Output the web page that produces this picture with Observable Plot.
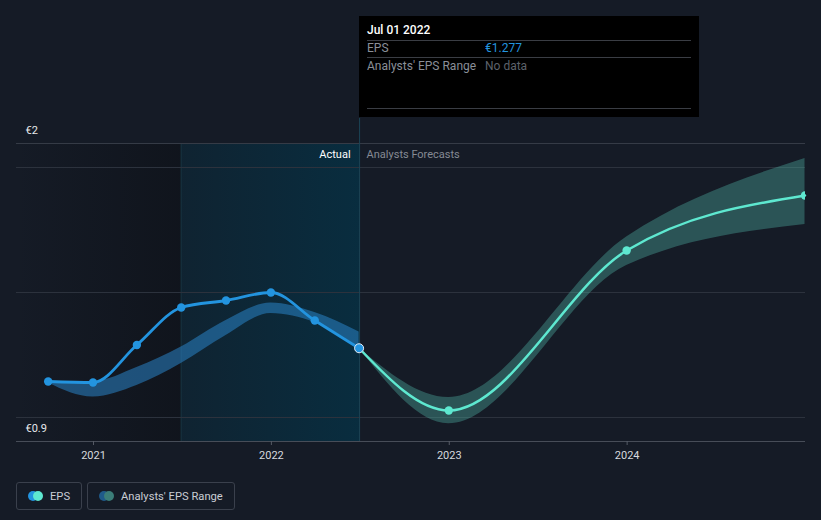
<!DOCTYPE html>
<html>
<head>
<meta charset="utf-8">
<script src="https://cdn.jsdelivr.net/npm/d3@7"></script>
<script src="https://cdn.jsdelivr.net/npm/@observablehq/plot@0.6"></script>
<style>
  html, body { margin: 0; padding: 0; background: #151b26; }
  body { font-family: Roboto, "Noto Sans", sans-serif; width: 821px; height: 520px; overflow: hidden; }
  #wrap { position: relative; width: 821px; height: 520px; }
  #tip { position: absolute; left: 359px; top: 16px; width: 340px; height: 101px; background: #000; color: #fff; font-size: 12px; }
  #tip .hd { position: absolute; left: 8px; top: 7px; font-weight: 500; color: #fff; font-size: 12px; }
  #tip .ln { position: absolute; left: 8px; width: 324px; height: 1px; background: #3a3d44; }
  #tip .lab { position: absolute; left: 8px; color: #8a8f98; }
  #tip .val { position: absolute; left: 126px; }
  #legend { position: absolute; left: 16px; top: 482px; display: flex; gap: 5px; }
  .lg { height: 26px; border: 1px solid #3a404c; border-radius: 3px; display: flex; align-items: center; padding: 0 11px 0 11px; color: #c9cdd4; font-size: 11.2px; white-space: nowrap; }
  .sw { position: relative; width: 15px; height: 10px; margin-right: 7px; flex: none; }
  .sw span { position: absolute; top: 0; width: 10px; height: 10px; border-radius: 50%; }
</style>
</head>
<body>
<div id="wrap">
  <div id="chart"></div>
  <div id="tip">
    <div class="hd">Jul 01 2022</div>
    <div class="ln" style="top:24px"></div>
    <div class="lab" style="top:25px">EPS</div>
    <div class="val" style="top:25px;color:#2394df">€1.277</div>
    <div class="ln" style="top:41px"></div>
    <div class="lab" style="top:43px">Analysts' EPS Range</div>
    <div class="val" style="top:43px;color:#5d626b">No data</div>
    <div class="ln" style="top:92px"></div>
  </div>
  <div id="legend">
    <div class="lg"><div class="sw"><span style="left:0;background:#2394df"></span><span style="left:5px;background:#5ee8d0"></span></div>EPS</div>
    <div class="lg"><div class="sw"><span style="left:0;background:#1f5a8a"></span><span style="left:5px;background:#3b7d78"></span></div>Analysts' EPS Range</div>
  </div>
</div>
<script>
// ---- data ----
const actualDates = ["2020-09-30","2020-12-31","2021-03-31","2021-06-30","2021-09-30","2021-12-31","2022-03-31","2022-06-30"];
const actualEps   = [1.144, 1.140, 1.290, 1.440, 1.468, 1.500, 1.388, 1.277];
const pastRangeLow  = [1.138, 1.082, 1.128, 1.216, 1.328, 1.416, 1.380, 1.282];
const pastRangeHigh = [1.144, 1.144, 1.200, 1.282, 1.388, 1.458, 1.420, 1.342];

const forecastDates = ["2022-06-30","2022-12-31","2023-12-31","2024-12-31"];
const forecastEps   = [1.277, 1.028, 1.668, 1.888];
const forecastLow   = [1.277, 0.975, 1.608, 1.772];
const forecastHigh  = [1.277, 1.080, 1.722, 2.036];

const yDomain = [0.904, 2.096];
const yGrid = [1.0, 1.5, 2.0];
const yLabelValues = [2.096, 0.904];
const yLabelTexts = ["€2", "€0.9"];
const xDomain = ["2020-07-27", "2025-01-01"];
const xTickYears = ["2021-01-01","2022-01-01","2023-01-01","2024-01-01"];
const pastStart = "2021-06-30";
const todayDate = "2022-07-01";

// ---- build tables ----
const P = d3.utcParse("%Y-%m-%d");
const actual = actualDates.map((d, i) => ({date: P(d), eps: actualEps[i], lo: pastRangeLow[i], hi: pastRangeHigh[i]}));
const forecast = forecastDates.map((d, i) => ({date: P(d), eps: forecastEps[i], lo: forecastLow[i], hi: forecastHigh[i]}));
const regions = [
  {x1: P(xDomain[0]), x2: P(pastStart), y1: yDomain[0], y2: yDomain[1], fill: "url(#gLeft)"},
  {x1: P(pastStart), x2: P(todayDate), y1: yDomain[0], y2: yDomain[1], fill: "url(#gAct)"}
];
const yLabels = yLabelValues.map((v, i) => ({y: v, text: yLabelTexts[i], x: P(xDomain[0])}));
const today = [{date: P(todayDate), y1: yDomain[0], y2: yDomain[1] + 0.1, ytop: yDomain[1]}];

const plot = Plot.plot({
  width: 821,
  height: 470,
  marginLeft: 16,
  marginRight: 16,
  marginTop: 143,
  marginBottom: 29,
  style: {background: "transparent", color: "#c9cdd4", fontFamily: "Roboto, sans-serif", fontSize: "11px"},
  x: {type: "utc", domain: xDomain.map(P), label: null},
  y: {domain: yDomain, label: null, axis: null},
  marks: [
    Plot.rect(regions, {x1: "x1", x2: "x2", y1: "y1", y2: "y2", fill: "fill"}),
    Plot.ruleX(regions.slice(1), {x: "x1", y1: "y1", y2: "y2", stroke: "#17323f", strokeWidth: 1}),
    Plot.ruleY(yGrid, {stroke: "#2c323d", strokeWidth: 1}),
    Plot.ruleY([yDomain[1]], {stroke: "#353b46", strokeWidth: 1}),
    Plot.ruleY([yDomain[0]], {stroke: "#474d58", strokeWidth: 1}),
    Plot.ruleX(today, {x: "date", y1: "y1", y2: "y2", stroke: "#1c4455", strokeWidth: 1}),
    Plot.text(yLabels, {x: "x", y: "y", text: "text", dx: 9, dy: -13, textAnchor: "start", fill: "#e6e8eb", fontSize: 11}),
    Plot.text(today, {x: "date", y: "ytop", text: () => "Actual", dx: -9, dy: 11, textAnchor: "end", fill: "#ffffff", fontSize: 11}),
    Plot.text(today, {x: "date", y: "ytop", text: () => "Analysts Forecasts", dx: 7, dy: 11, textAnchor: "start", fill: "#858a94", fontSize: 11}),
    Plot.axisX({ticks: xTickYears.map(P), tickFormat: d3.utcFormat("%Y"), tickSize: 4, tickPadding: 6, stroke: "#555b66", fill: "#d6d9de", fontSize: 11, label: null}),
    Plot.areaY(actual, {x: "date", y1: "lo", y2: "hi", curve: "monotone-x", fill: "#2a84c6", fillOpacity: 0.55}),
    Plot.areaY(forecast, {x: "date", y1: "lo", y2: "hi", curve: "monotone-x", fill: "#4fb3a6", fillOpacity: 0.38, clip: true}),
    Plot.line(forecast, {x: "date", y: "eps", curve: "monotone-x", stroke: "#5ee8d0", strokeWidth: 2.5}),
    Plot.line(actual, {x: "date", y: "eps", curve: "monotone-x", stroke: "#2394df", strokeWidth: 2.8}),
    Plot.dot(forecast.slice(1), {x: "date", y: "eps", r: 4.2, fill: "#5ee8d0", clip: true}),
    Plot.dot(actual.slice(0, -1), {x: "date", y: "eps", r: 4.2, fill: "#2394df"}),
    Plot.dot(actual.slice(-1), {x: "date", y: "eps", r: 4.5, fill: "#2394df", stroke: "#e8eef5", strokeWidth: 1})
  ]
});

// gradient definitions for the shaded regions
const defs = document.createElementNS("http://www.w3.org/2000/svg", "defs");
defs.innerHTML = `
  <linearGradient id="gLeft" x1="0" x2="1" y1="0" y2="0">
    <stop offset="0" stop-color="#0c0f15" stop-opacity="0"/>
    <stop offset="1" stop-color="#0c0f15" stop-opacity="0.55"/>
  </linearGradient>
  <linearGradient id="gAct" x1="0" x2="1" y1="0" y2="0">
    <stop offset="0" stop-color="#053246" stop-opacity="0.35"/>
    <stop offset="1" stop-color="#053246" stop-opacity="0.78"/>
  </linearGradient>`;
plot.insertBefore(defs, plot.firstChild);
document.getElementById("chart").appendChild(plot);
</script>
</body>
</html>
